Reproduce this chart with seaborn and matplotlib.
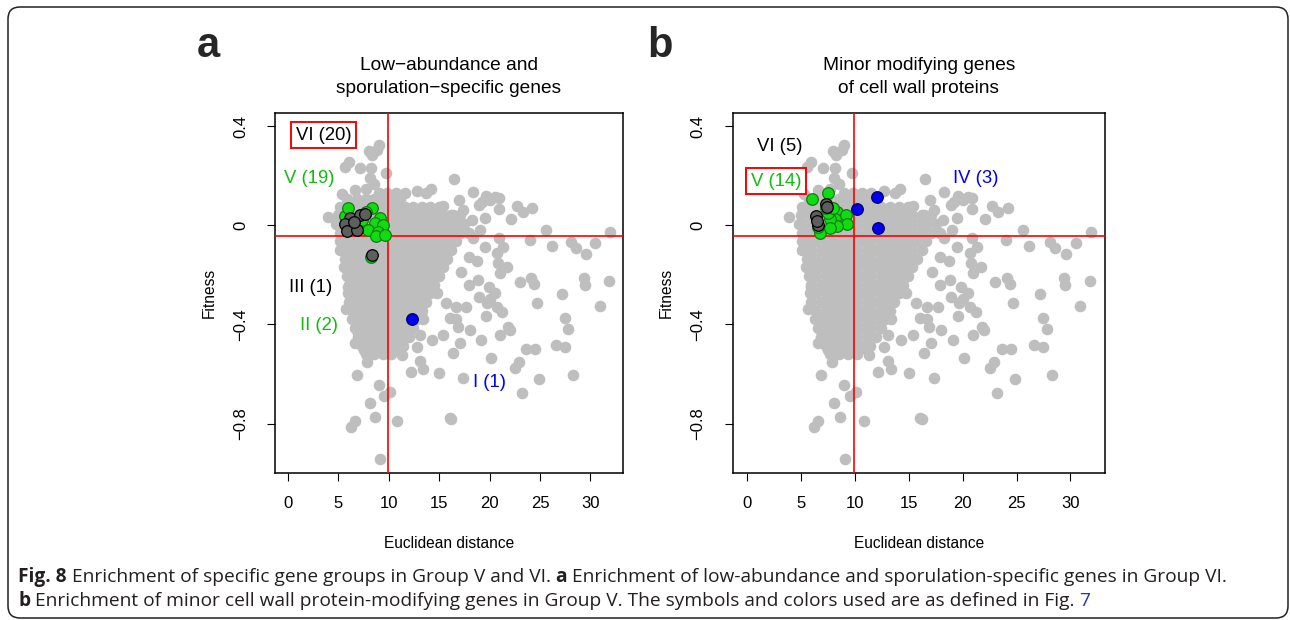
import numpy as np
import matplotlib
matplotlib.use("Agg")
import matplotlib.pyplot as plt
import matplotlib.transforms as mtrans
from matplotlib.patches import FancyBboxPatch
import pandas as pd
import seaborn as sns

# background genes (grey), scattered ones
out_x = [9.0, 8.8, 8.0, 8.3, 6.0, 5.6, 7.1, 8.2, 9.75, 8.1, 8.55, 7.7, 6.6, 9.3, 3.95, 5.3,
         16.5, 14.2, 13.7, 12.75, 18.3, 20.9, 20.0, 19.2, 18.9, 20.5, 19.6, 17.4, 22.7, 23.3,
         24.2, 22.1, 20.9, 15.4, 16.4, 18.2, 19.5, 17.0,
         25.6, 31.9, 24.0, 26.2, 28.1, 28.6, 29.6, 30.5, 20.9, 21.3, 20.7, 20.8, 21.7, 21.0,
         19.5, 18.7, 17.9, 17.2, 19.9, 20.5, 18.85, 17.9, 23.0, 24.1, 24.4, 29.4, 29.5, 31.85,
         27.2, 24.7, 30.9, 18.3, 19.0,
         27.5, 27.8, 23.65, 24.5, 26.6, 27.5, 22.9, 22.5, 24.9, 28.3, 23.2, 20.1, 17.4, 16.2,
         21.0, 21.8, 22.0, 19.1, 17.1, 16.4, 16.9, 18.0, 17.7, 16.7, 18.9, 20.0, 19.7, 20.7,
         21.2, 19.6, 16.7, 15.7, 16.1, 15.4,
         15.0, 13.4, 13.1, 12.2, 12.75, 14.3, 13.1, 11.3, 10.9, 10.1, 9.55, 9.0, 8.1, 8.67,
         10.85, 6.6, 6.22, 9.1, 6.88, 7.87, 7.54, 8.27, 6.62, 5.7, 6.95, 5.95, 6.1, 16.1]
out_y = [0.324, 0.304, 0.30, 0.285, 0.254, 0.234, 0.232, 0.23, 0.209, 0.19, 0.166, 0.145, 0.142, 0.118, 0.033, 0.125,
         0.187, 0.145, 0.13, 0.14, 0.135, 0.11, 0.10, 0.095, 0.08, 0.115, 0.12, 0.062, 0.079, 0.055,
         0.071, 0.024, 0.065, 0.078, 0.042, 0.02, 0.03, 0.10,
         -0.019, -0.027, -0.059, -0.083, -0.066, -0.093, -0.116, -0.073, -0.052, -0.086, -0.113, -0.153, -0.167, -0.194,
         -0.086, -0.146, -0.126, -0.187, -0.247, -0.272, -0.22, -0.24, -0.227, -0.214, -0.237, -0.214, -0.241, -0.223,
         -0.277, -0.312, -0.325, -0.05, -0.02,
         -0.375, -0.419, -0.50, -0.50, -0.483, -0.492, -0.55, -0.577, -0.621, -0.602, -0.677, -0.536, -0.617, -0.781,
         -0.442, -0.411, -0.422, -0.462, -0.473, -0.516, -0.409, -0.422, -0.328, -0.379, -0.288, -0.298, -0.315, -0.328,
         -0.348, -0.366, -0.331, -0.315, -0.375, -0.442,
         -0.597, -0.58, -0.546, -0.59, -0.489, -0.462, -0.442, -0.523, -0.496, -0.671, -0.688, -0.644, -0.718, -0.774,
         -0.788, -0.789, -0.812, -0.944, -0.604, -0.55, -0.505, -0.492, -0.476, -0.339, -0.435, -0.247, -0.167, -0.778]

# dense core of the cloud, one list of x per fitness row (rows staggered)
core_row_y = [0.13, 0.105, 0.075, 0.04, 0.005, -0.03, -0.065, -0.10, -0.135, -0.17, -0.205,
              -0.24, -0.275, -0.31, -0.345, -0.38, -0.415, -0.45, -0.485, -0.52]
core_row_x = [
    [9.0, 9.85, 10.7, 11.55],
    [5.8, 6.85, 7.7, 8.55, 9.4, 10.25, 11.1],
    [5.1, 5.6, 6.45, 7.3, 8.15, 9.0, 9.85, 10.7, 11.55, 12.4, 13.25, 14.1, 14.95],
    [5.0, 6.0, 6.85, 7.7, 8.55, 9.4, 10.25, 11.1, 11.95, 12.8, 13.65, 14.5, 15.35, 16.2, 17.05],
    [4.8, 5.6, 6.45, 7.3, 8.15, 9.0, 9.85, 10.7, 11.55, 12.4, 13.25, 14.1, 14.95, 15.8, 16.65, 17.5],
    [5.15, 6.0, 6.85, 7.7, 8.55, 9.4, 10.25, 11.1, 11.95, 12.8, 13.65, 14.5, 15.35, 16.2, 17.05, 17.9],
    [5.1, 5.6, 6.45, 7.3, 8.15, 9.0, 9.85, 10.7, 11.55, 12.4, 13.25, 14.1, 14.95, 15.8, 16.65],
    [5.15, 6.0, 6.85, 7.7, 8.55, 9.4, 10.25, 11.1, 11.95, 12.8, 13.65, 14.5, 15.35, 16.2],
    [5.6, 6.45, 7.3, 8.15, 9.0, 9.85, 10.7, 11.55, 12.4, 13.25, 14.1, 14.95, 15.8],
    [5.5, 6.0, 6.85, 7.7, 8.55, 9.4, 10.25, 11.1, 11.95, 12.8, 13.65, 14.5, 15.35],
    [5.8, 6.45, 7.3, 8.15, 9.0, 9.85, 10.7, 11.55, 12.4, 13.25, 14.1, 14.95],
    [6.0, 6.85, 7.7, 8.55, 9.4, 10.25, 11.1, 11.95, 12.8, 13.65, 14.5],
    [5.9, 6.45, 7.3, 8.15, 9.0, 9.85, 10.7, 11.55, 12.4, 13.25, 14.1, 14.8],
    [6.0, 6.85, 7.7, 8.55, 9.4, 10.25, 11.1, 11.95, 12.8, 13.65],
    [6.45, 7.3, 8.15, 9.0, 9.85, 10.7, 11.55, 12.4, 13.25],
    [6.3, 6.85, 7.7, 8.55, 9.4, 10.25, 11.1, 11.95, 12.8, 13.4],
    [6.6, 7.3, 8.15, 9.0, 9.85, 10.7, 11.55, 12.4],
    [6.9, 7.7, 8.55, 9.4, 10.25, 11.1, 11.95],
    [7.3, 8.15, 9.0, 9.85, 10.7, 11.4],
    [7.7, 8.55, 9.4, 10.25],
]

# panel a highlighted genes
a_green_x = [5.63, 5.95, 8.37, 7.68, 9.1, 7.34, 8.6, 9.4, 7.88, 8.93, 8.77, 9.66, 8.27]
a_green_y = [0.039, 0.071, 0.068, 0.055, 0.028, 0.021, 0.008, 0.001, -0.019, -0.028, -0.042, -0.039, -0.127]
a_dark_x = [6.12, 5.69, 5.89, 6.79, 7.11, 7.6, 6.55, 8.33]
a_dark_y = [0.028, 0.004, -0.023, -0.019, 0.042, 0.044, 0.015, -0.12]
a_blue_x = [12.3]
a_blue_y = [-0.378]

# panel b highlighted genes
b_green_x = [7.5, 6.02, 8.34, 9.18, 8.18, 9.27, 8.34, 7.72, 7.56, 6.79, 6.64, 7.72, 8.0, 7.3]
b_green_y = [0.131, 0.105, 0.055, 0.042, 0.024, 0.005, -0.003, 0.024, 0.048, -0.032, -0.006, -0.012, 0.07, 0.07]
b_dark_x = [6.6, 7.32, 7.47, 6.39, 6.49]
b_dark_y = [0.0, 0.086, 0.073, 0.038, 0.019]
b_blue_x = [12.05, 10.19, 12.2]
b_blue_y = [0.113, 0.065, -0.012]

dist_cut = 9.9
fit_cut = -0.043

titles = ["Low\u2212abundance and\nsporulation\u2212specific genes",
          "Minor modifying genes\nof cell wall proteins"]

sns.set_theme(style="white")
plt.rcParams["font.family"] = ["Liberation Sans", "DejaVu Sans"]

core_x = [x for xs in core_row_x for x in xs]
core_y = [y for y, xs in zip(core_row_y, core_row_x) for _ in xs]
bg = pd.DataFrame({"dist": out_x + core_x, "fit": out_y + core_y})

GREY = "#bebebe"
GREEN = "#10dd10"
GREEN_EDGE = "#137a13"
DARK = "#5e5e5e"
BLUE = "#0000ee"
PT = 70

fig = plt.figure(figsize=(12.9, 6.2), dpi=100)
W, H = 1290, 620
ax_a = fig.add_axes([275 / W, 1 - 472.7 / H, 347.7 / W, 360 / H])
ax_b = fig.add_axes([732.7 / W, 1 - 472.7 / H, 372.3 / W, 360 / H])

panels = [
    (ax_a, a_green_x, a_green_y, a_dark_x, a_dark_y, a_blue_x, a_blue_y),
    (ax_b, b_green_x, b_green_y, b_dark_x, b_dark_y, b_blue_x, b_blue_y),
]

for i, (ax, gx, gy, dx, dy, bx, by) in enumerate(panels):
    sns.scatterplot(data=bg, x="dist", y="fit", ax=ax, color=GREY, s=PT,
                    linewidth=0, legend=False, zorder=2)
    ax.axvline(dist_cut, color="red", lw=1.2, zorder=3)
    ax.axhline(fit_cut, color="red", lw=1.2, zorder=3)
    sns.scatterplot(x=gx, y=gy, ax=ax, color=GREEN, edgecolor=GREEN_EDGE, s=PT,
                    linewidth=0.9, legend=False, zorder=4)
    sns.scatterplot(x=dx, y=dy, ax=ax, color=DARK, edgecolor="black", s=PT,
                    linewidth=0.9, legend=False, zorder=5)
    sns.scatterplot(x=bx, y=by, ax=ax, color=BLUE, edgecolor="#00006a", s=PT,
                    linewidth=0.9, legend=False, zorder=5)

    ax.set_xlim(-1.3, 33.2)
    ax.set_ylim(-0.998, 0.454)
    ax.set_xticks([0, 5, 10, 15, 20, 25, 30])
    ax.set_yticks([0.4, 0.0, -0.4, -0.8])
    ax.set_yticklabels(["0.4", "0", "\u22120.4", "\u22120.8"])
    ax.set_xlabel("")
    ax.set_ylabel("")
    for sp in ax.spines.values():
        sp.set_color("black")
        sp.set_linewidth(1.1)
    ax.tick_params(axis="both", direction="out", length=5.5, width=0.8,
                   color="black", labelsize=12, labelcolor="black",
                   bottom=True, left=True)
    ax.tick_params(axis="x", pad=11)
    ax.tick_params(axis="y", pad=14, labelrotation=90)
    for lab in ax.get_yticklabels():
        lab.set_va("center")
    ax.set_title(titles[i], fontsize=13.8, color="black", pad=14, linespacing=1.5)

    # axis labels
    cx = ax.get_position().x0 + ax.get_position().width / 2
    cy = ax.get_position().y0 + ax.get_position().height / 2
    fig.text(cx, 1 - 543 / H, "Euclidean distance", ha="center", va="center",
             fontsize=11.2, color="black")
    fig.text(ax.get_position().x0 - 66 / W, cy, "Fitness", ha="center", va="center",
             rotation=90, fontsize=11.2, color="black")

# group labels, panel a
lab_kw = dict(fontsize=13.3, ha="center", va="center")
ax_a.text(3.55, 0.364, "VI (20)", color="black",
          bbox=dict(boxstyle="square,pad=0.25", fc="white", ec="red", lw=1.4), **lab_kw)
ax_a.text(2.1, 0.19, "V (19)", color="#11bb11", **lab_kw)
ax_a.text(2.2, -0.25, "III (1)", color="black", **lab_kw)
ax_a.text(3.1, -0.405, "II (2)", color="#11bb11", **lab_kw)
ax_a.text(20.0, -0.635, "I (1)", color=BLUE, **lab_kw)

# group labels, panel b
ax_b.text(3.1, 0.319, "VI (5)", color="black", **lab_kw)
ax_b.text(2.7, 0.178, "V (14)", color="#11bb11",
          bbox=dict(boxstyle="square,pad=0.25", fc="white", ec="red", lw=1.4), **lab_kw)
ax_b.text(21.2, 0.19, "IV (3)", color=BLUE, **lab_kw)

# panel letters
fig.text(208 / W, 1 - 46 / H, "a", fontsize=30, fontweight="bold", ha="center", va="center")
fig.text(660 / W, 1 - 46 / H, "b", fontsize=30, fontweight="bold", ha="center", va="center")

# caption, built piece by piece for the bold and blue bits
renderer = fig.canvas.get_renderer()
cap_font = ["Open Sans", "DejaVu Sans"]
cap_size = 13.8
cap_col = "#231f20"


def caption_line(y_px, pieces):
    x = 18
    probe = fig.text(0, 0, "n n", fontsize=cap_size, family=cap_font)
    probe2 = fig.text(0, 0, "nn", fontsize=cap_size, family=cap_font)
    space = probe.get_window_extent(renderer).width - probe2.get_window_extent(renderer).width
    probe.remove()
    probe2.remove()
    for txt, weight, col in pieces:
        t = fig.text(x / W, 1 - y_px / H, txt, fontsize=cap_size, fontweight=weight,
                     color=col, family=cap_font, ha="left", va="center")
        x = t.get_window_extent(renderer).x1 + space


caption_line(577, [
    ("Fig. 8", "bold", cap_col),
    ("Enrichment of specific gene groups in Group V and VI.", "normal", cap_col),
    ("a", "bold", cap_col),
    ("Enrichment of low-abundance and sporulation-specific genes in Group VI.", "normal", cap_col),
])
caption_line(601, [
    ("b", "bold", cap_col),
    ("Enrichment of minor cell wall protein-modifying genes in Group V. The symbols and colors used are as defined in Fig.",
     "normal", cap_col),
    ("7", "normal", "#2b2bd6"),
])

# rounded frame round the whole figure
frame = FancyBboxPatch((8, 2), 1280, 611, boxstyle="round,pad=0,rounding_size=12",
                       transform=mtrans.IdentityTransform(), fc="none", ec="#222222", lw=1.1)
fig.add_artist(frame)

fig.savefig("out.png", dpi=100, facecolor="white")
